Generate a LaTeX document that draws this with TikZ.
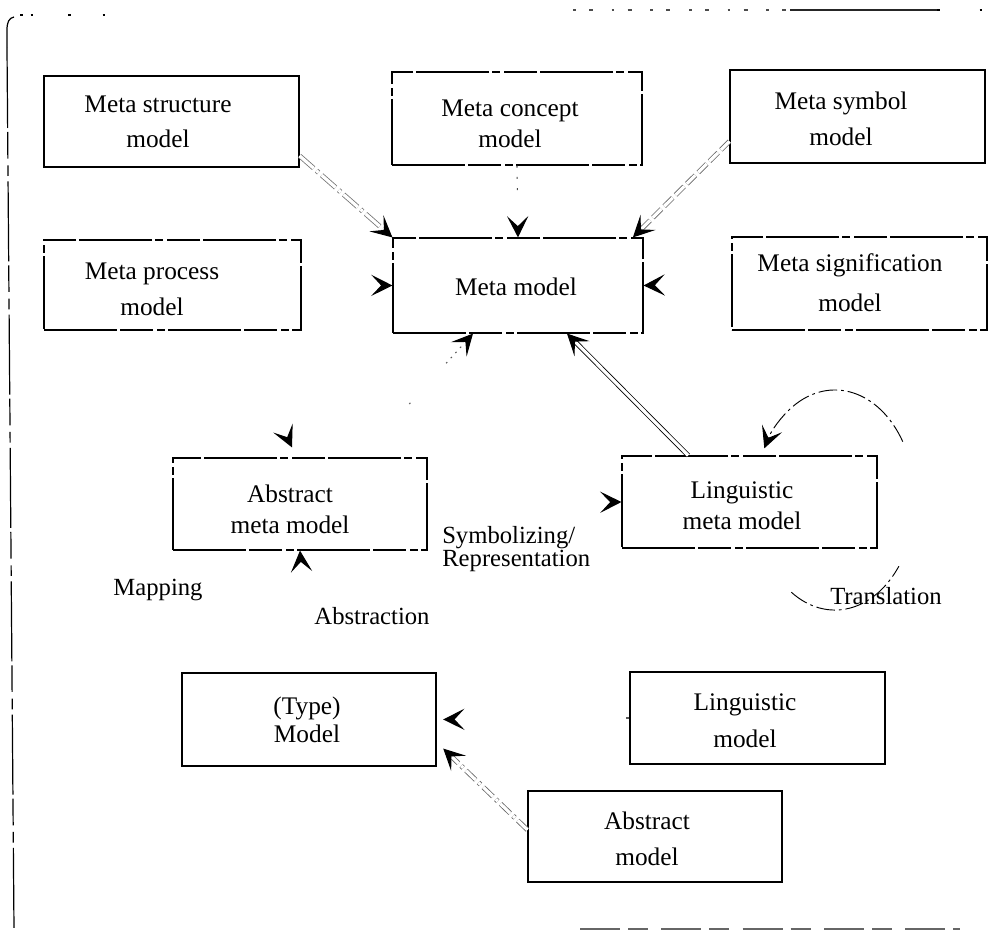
\documentclass[tikz,border=0pt]{standalone}
\usepackage{fontspec}
\setmainfont{Liberation Serif}
\usetikzlibrary{arrows.meta,fit}
\begin{document}
\begin{tikzpicture}[x=0.75pt,y=-0.75pt,
  box/.style={draw=black, line width=0.85pt, inner sep=0pt},
  brokenbox/.style={box, dash pattern=on 55pt off 2pt on 25pt off 3pt on 6pt off 2pt},
  txt/.style={font=\fontsize{19}{#1}\selectfont, align=center, inner sep=0pt},
  txt/.default=26,
  lbl/.style={font=\fontsize{18.5}{13}\selectfont, inner sep=0pt},
  head/.style={-{Stealth[length=16pt,width=16pt,inset=7.5pt]}},
  tiponly/.style={draw=black, line width=0.8pt, head, dash pattern=on 0pt off 3000pt},
  dbl/.style={double=white, double distance=2.4pt, line width=0.6pt, shorten >=9pt},
  frameline/.style={line width=0.9pt},
  loopline/.style={line width=0.7pt, dash pattern=on 14pt off 3pt on 2pt off 3pt}
]
\useasboundingbox (0,0) rectangle (1008,931);

% outer frame, only partly printed
\draw[frameline] (7,48) -- (7,30) .. controls (7,22) and (9,18) .. (14,17);
\draw[frameline, dash pattern=on 2pt off 6pt on 2pt off 26pt on 2pt off 24pt] (20,15) -- (110,15);
\draw[frameline, dash pattern=on 60pt off 3pt on 20pt off 5pt on 8pt off 4pt] (7,48) -- (14,929);
\draw[frameline, black!70, dash pattern=on 2pt off 10pt on 3pt off 14pt] (573,10) -- (790,10);
\draw[frameline, black!85] (790,10) -- (937,10);
\draw[frameline, dash pattern=on 2pt off 30pt] (937,10) -- (1003,10);
\draw[frameline, black!60, dash pattern=on 30pt off 6pt on 15pt off 10pt] (580,929) -- (960,929);

% boxes
\node[box,       fit={(44,76) (299,167)}]  (ms)   {};
\node[brokenbox, fit={(392,72) (642,165)}] (mc)   {};
\node[box,       fit={(730,70) (985,163)}] (msy)  {};
\node[brokenbox, fit={(44,240) (301,330)}] (mp)   {};
\node[brokenbox, fit={(393,238) (643,333)}] (mm)  {};
\node[brokenbox, fit={(732,237) (987,330)}] (msig) {};
\node[brokenbox, fit={(173,458) (427,550)}] (amm) {};
\node[brokenbox, fit={(622,456) (877,548)}] (lmm) {};
\node[box,       fit={(182,673) (436,766)}] (tm)  {};
\node[box,       fit={(630,672) (885,764)}] (lm)  {};
\node[box,       fit={(528,791) (782,882)}] (am)  {};

% box texts
\node[txt=26] (ms-t)   at (158,122) {Meta structure\\model};
\node[txt=23] (mc-t)   at (510,124) {Meta concept\\model};
\node[txt=27] (msy-t)  at (841,119) {Meta symbol\\model};
\node[txt=27] (mp-t)   at (152,289) {Meta process\\model};
\node[txt]    (mm-t)   at (516,287) {Meta model};
\node[txt=30] (msig-t) at (850,283) {Meta signification\\model};
\node[txt=23] (amm-t)  at (290,509) {Abstract\\meta model};
\node[txt=23] (lmm-t)  at (742,506) {Linguistic\\meta model};
\node[txt=21] (tm-t)   at (307,720) {(Type)\\Model};
\node[txt=28] (lm-t)   at (745,721) {Linguistic\\model};
\node[txt=27] (am-t)   at (647,839) {Abstract\\model};

% labels
\node[lbl] (map) at (158,590) {Mapping};
\node[lbl] (abs) at (372,616) {Abstraction};
\node[lbl, anchor=west, align=left] (sym) at (442,549) {Symbolizing/\\Representation};
\node[lbl] (trl) at (886,596) {Translation};

% meta structure -> meta model
\draw[dbl, black!55, dash pattern=on 14pt off 3pt on 2pt off 3pt] (ms.-15) -- (mm.north west);
\draw[tiponly] (ms.-15) -- (mm.north west);
% meta concept -> meta model
\draw[black!70, line width=0.8pt, dash pattern=on 1.5pt off 7pt on 1.5pt off 7pt on 1.5pt off 100pt] (mc.south) -- (mm.north);
\draw[tiponly] (mc.south) -- (mm.north);
% meta symbol -> meta model
\draw[dbl, black!60, dash pattern=on 9pt off 3pt] (msy.191) -- ([xshift=-8pt]mm.north east);
\draw[tiponly] (msy.191) -- ([xshift=-8pt]mm.north east);
% meta process / meta signification -> meta model
\draw[tiponly] (mp.east) -- (mm.west);
\draw[tiponly] (msig.west) -- (mm.east);
% abstract meta model -> meta model
\draw[black!65, line width=0.8pt, shorten >=9pt,
  dash pattern=on 0pt off 54pt on 1.2pt off 40pt on 1.2pt off 4pt on 1.2pt off 4pt on 1.2pt off 4pt on 1.2pt off 100pt]
  ([xshift=45.75pt]amm.north) -- ([xshift=-33.75pt]mm.south);
\draw[tiponly] ([xshift=45.75pt]amm.north) -- ([xshift=-33.75pt]mm.south);
% linguistic meta model -> meta model
\draw[dbl, black] ([xshift=-46pt]lmm.north) -- ([xshift=36.75pt]mm.south);
\draw[tiponly] ([xshift=-46pt]lmm.north) -- ([xshift=36.75pt]mm.south);
% mapping, abstraction, symbolizing
\draw[tiponly] ([xshift=48.75pt]mp.south) -- ([xshift=-6pt,yshift=7.5pt]amm.north);
\draw[tiponly] (tm.north) -- (amm.south);
\draw[tiponly] (amm.east) -- (lmm.west);
% lower models
\draw[tiponly, dash pattern=on 2.5pt off 3000pt] (lm.west) -- ([xshift=5pt]tm.east);
\draw[dbl, black!60, dash pattern=on 10pt off 3pt on 2pt off 3pt] ([yshift=5pt]am.west) -- ([xshift=5pt,yshift=13.5pt]tm.south east);
\draw[tiponly] ([yshift=5pt]am.west) -- ([xshift=5pt,yshift=13.5pt]tm.south east);

% translation loop on the linguistic meta model
\coordinate (loopa) at (791.4,592.3);
\coordinate (loopb) at (902.8,441.7);
\draw[loopline] (loopa) arc[start angle=123, end angle=37, x radius=80, y radius=110];
\draw[loopline, head] (loopb) arc[start angle=-32, end angle=-152, x radius=80, y radius=110];
\end{tikzpicture}
\end{document}
